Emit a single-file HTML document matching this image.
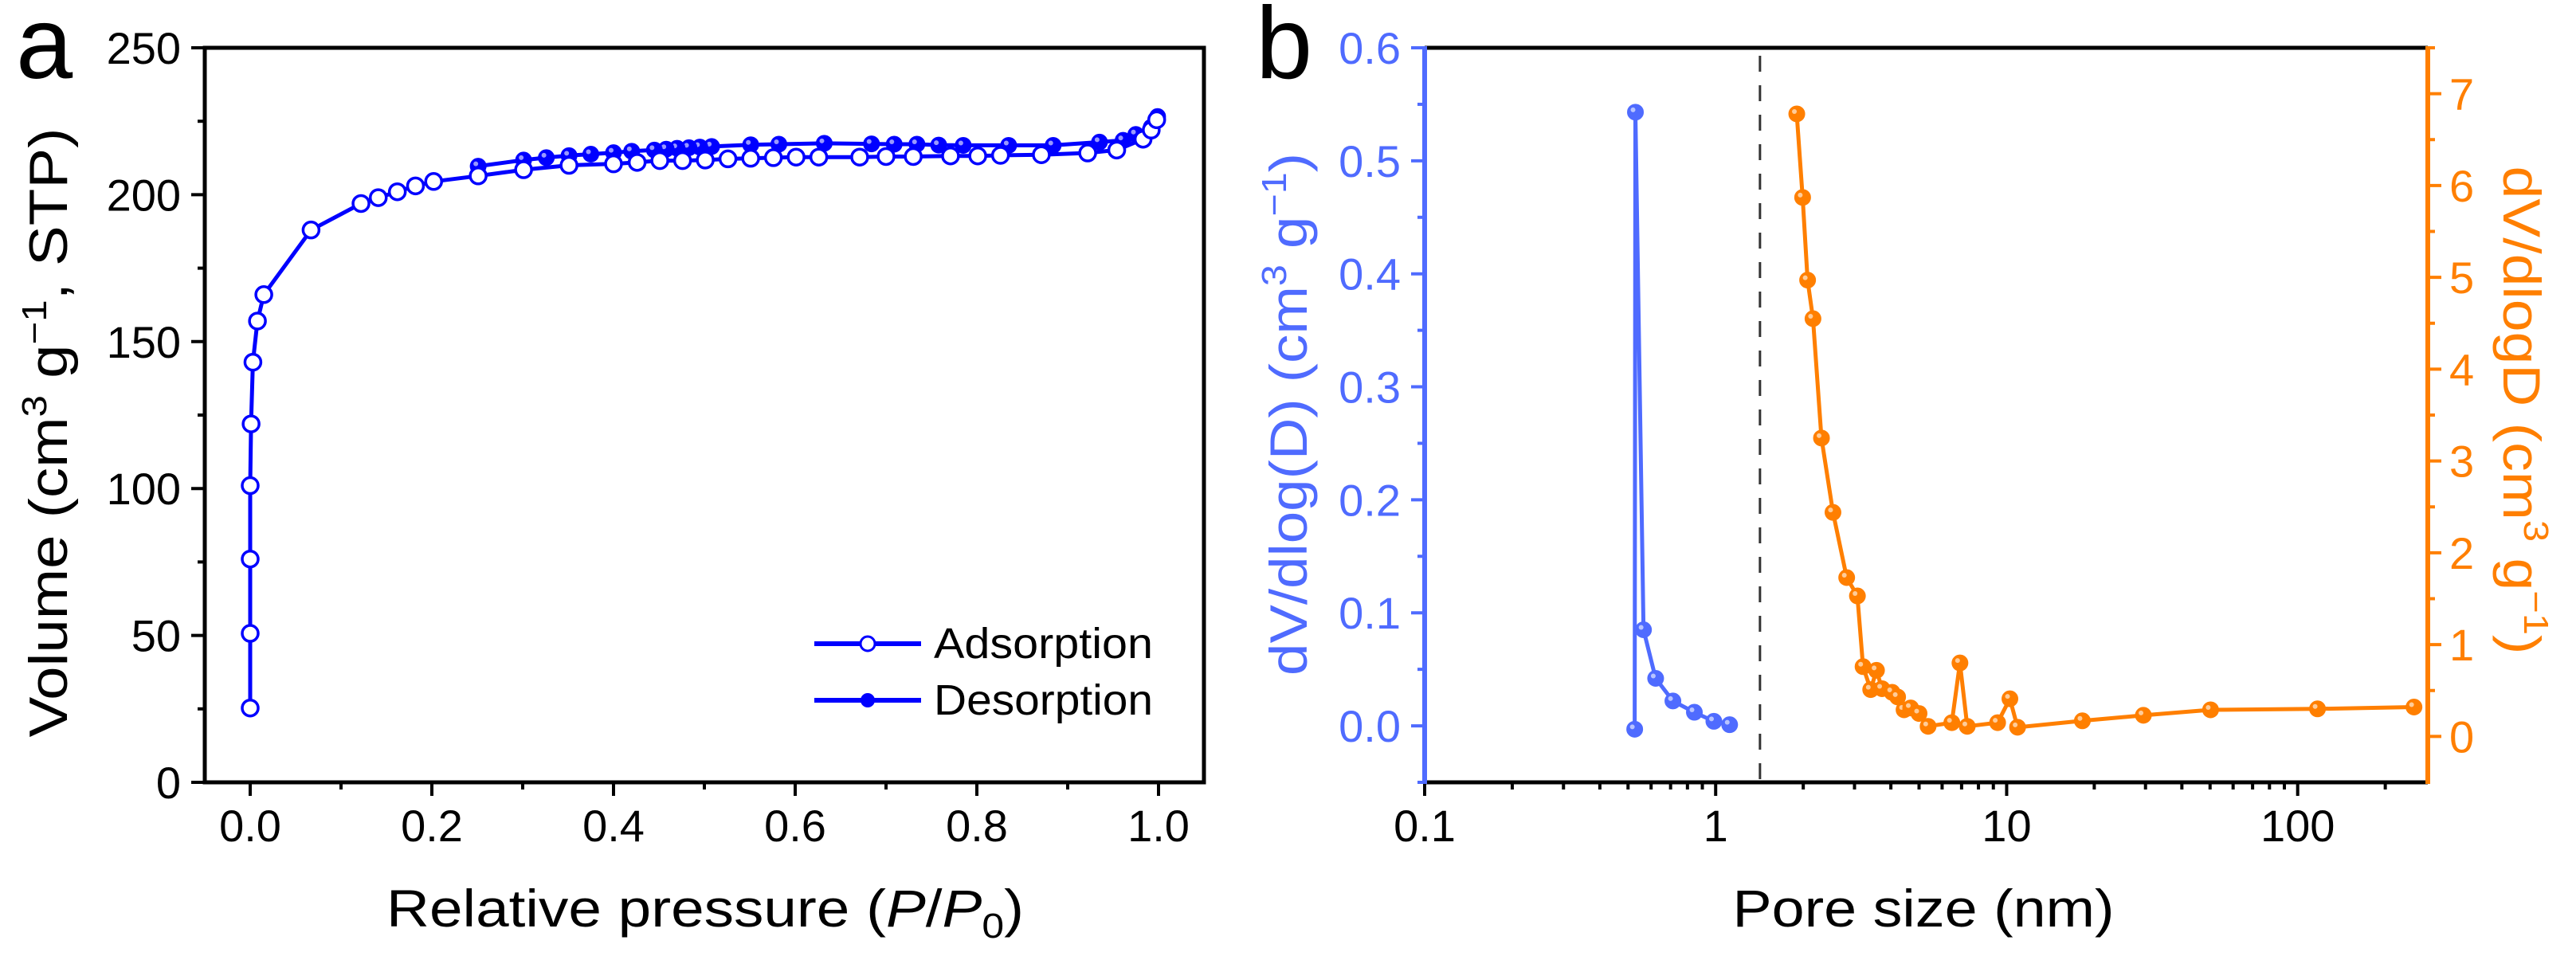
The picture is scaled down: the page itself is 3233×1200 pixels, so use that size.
<!DOCTYPE html>
<html><head><meta charset="utf-8"><style>
html,body{margin:0;padding:0;background:#fff;}
svg{display:block;font-family:"Liberation Sans",Arial,sans-serif;}
</style></head><body>
<svg id="fig" width="3233" height="1200" viewBox="0 0 3233 1200" xmlns="http://www.w3.org/2000/svg">
<rect width="3233" height="1200" fill="#fff"/>
<g id="pa"></g>
<g id="pb"></g>
</svg>
<script>
// ---- Panel a data ----
const adsP = [0,0,0,0,0.001,0.003,0.008,0.015,0.067,0.122,0.141,0.162,0.182,0.202,0.251,0.301,0.351,0.40,0.426,0.451,0.476,0.501,0.526,0.551,0.576,0.601,0.626,0.671,0.70,0.73,0.771,0.801,0.826,0.871,0.922,0.954,0.983,0.992,0.998];
const adsV = [25.3,50.7,76,101,122,143,157,166,188,197,199,201,203,204.5,206.4,208.5,210,210.5,211,211.6,211.6,211.8,212.2,212.4,212.6,212.8,212.8,212.8,213,213,213.2,213.2,213.4,213.6,214.2,215.2,218.9,222,225.5];
const desP = [0.999,0.992,0.975,0.961,0.935,0.884,0.835,0.785,0.758,0.734,0.709,0.684,0.632,0.582,0.551,0.508,0.495,0.483,0.470,0.458,0.445,0.420,0.40,0.375,0.351,0.326,0.301,0.251];
const desV = [226.6,223,220.5,218.5,217.9,216.8,216.8,216.8,216.9,217.2,217.2,217.3,217.5,217.2,217,216.4,216.2,216,215.8,215.5,215.2,214.8,214.3,213.8,213.3,212.6,211.8,209.7];
const aXTicks = [0,0.2,0.4,0.6,0.8,1.0];
const aXLabels = ["0.0","0.2","0.4","0.6","0.8","1.0"];
const aYTicks = [0,50,100,150,200,250];
const aYLabels = ["0","50","100","150","200","250"];
// ---- Panel b data ----
const microD = [0.527,0.530,0.565,0.622,0.713,0.845,0.986,1.117];
const microV = [-0.003,0.543,0.085,0.042,0.022,0.012,0.004,0.001];
const mesoD = [1.90,1.99,2.07,2.16,2.31,2.53,2.82,3.07,3.21,3.41,3.57,3.73,4.04,4.22,4.44,4.68,5.00,5.37,6.48,6.91,7.32,9.31,10.26,10.9,18.2,29.5,50.2,117,251];
const mesoV = [6.78,5.87,4.97,4.55,3.25,2.44,1.73,1.53,0.76,0.51,0.72,0.52,0.48,0.43,0.29,0.31,0.25,0.11,0.15,0.80,0.11,0.15,0.41,0.10,0.17,0.23,0.29,0.30,0.32];
const bXTicks = [0.1,1,10,100];
const bXLabels = ["0.1","1","10","100"];
const bYLTicks = [0,0.1,0.2,0.3,0.4,0.5,0.6];
const bYLLabels = ["0.0","0.1","0.2","0.3","0.4","0.5","0.6"];
const bYRTicks = [0,1,2,3,4,5,6,7];
const bYRLabels = ["0","1","2","3","4","5","6","7"];
const dashD = 1.42;

const NS="http://www.w3.org/2000/svg";
function mk(tag,attrs,parent){const e=document.createElementNS(NS,tag);for(const k in attrs)e.setAttribute(k,attrs[k]);parent.appendChild(e);return e;}

const A={l:257,r:1511,t:60,b:982,x0:-0.05,x1:1.05,y0:0,y1:250};
const ax=v=>A.l+(v-A.x0)/(A.x1-A.x0)*(A.r-A.l);
const ay=v=>A.b-(v-A.y0)/(A.y1-A.y0)*(A.b-A.t);
const B={l:1788,r:3047,t:60,b:982,lx0:-1,lx1:Math.log10(280),yl0:-0.05,yl1:0.6,yr0:-0.5,yr1:7.5};
const bx=v=>B.l+(Math.log10(v)-B.lx0)/(B.lx1-B.lx0)*(B.r-B.l);
const byl=v=>B.b-(v-B.yl0)/(B.yl1-B.yl0)*(B.b-B.t);
const byr=v=>B.b-(v-B.yr0)/(B.yr1-B.yr0)*(B.b-B.t);

const pa=document.getElementById('pa'), pb=document.getElementById('pb');
const BLUE="#0000ff", LB="#4f6bff", OR="#ff7f00";

// ===== Panel a =====
let e;
e=mk('text',{x:20,y:98,'font-size':128,fill:'#000'},pa);e.textContent='a';


for(let i=0;i<aXTicks.length;i++){
  const x=ax(aXTicks[i]);
  e=mk('line',{x1:x,x2:x,y1:A.b,y2:A.b+17,stroke:'#000','stroke-width':4},pa);
  
  
  e=mk('text',{x:x,y:1056,'font-size':56,'text-anchor':'middle',fill:'#000'},pa);e.textContent=aXLabels[i];
  
  
  if(i<aXTicks.length-1){const xm=ax((aXTicks[i]+aXTicks[i+1])/2);
    e=mk('line',{x1:xm,x2:xm,y1:A.b,y2:A.b+9,stroke:'#000','stroke-width':4},pa);
    
    }
}
for(let i=0;i<aYTicks.length;i++){
  const y=ay(aYTicks[i]);
  e=mk('line',{x1:A.l-17,x2:A.l,y1:y,y2:y,stroke:'#000','stroke-width':4},pa);
  
  
  e=mk('text',{x:A.l-30,y:y+20,'font-size':56,'text-anchor':'end',fill:'#000'},pa);e.textContent=aYLabels[i];
  
  
  if(i<aYTicks.length-1){const ym=ay((aYTicks[i]+aYTicks[i+1])/2);
    e=mk('line',{x1:A.l-9,x2:A.l,y1:ym,y2:ym,stroke:'#000','stroke-width':4},pa);
    
    }
}
e=mk('rect',{x:A.l,y:A.t,width:A.r-A.l,height:A.b-A.t,fill:'none',stroke:'#000','stroke-width':5},pa);


function series(g,xs,ys,fx,fy,color,lw,r,filled,name){
  const pts=xs.map((v,i)=>fx(v).toFixed(1)+','+fy(ys[i]).toFixed(1)).join(' ');
  let p=mk('polyline',{points:pts,fill:'none',stroke:color,'stroke-width':lw,'stroke-linejoin':'round'},g);
  
  
  for(let i=0;i<xs.length;i++){
    const cx=fx(xs[i]),cy=fy(ys[i]);
    let c=mk('circle',{cx:cx,cy:cy,r:r,fill:filled?color:'#fff',stroke:color,'stroke-width':filled?1:3.5},g);
    
    
    if(filled){mk('circle',{cx:cx-r*0.3,cy:cy-r*0.3,r:r*0.3,fill:'#fff','fill-opacity':0.6},g);}
  }
}
series(pa,desP,desV,ax,ay,BLUE,5,10,true,'desorption');
series(pa,adsP,adsV,ax,ay,BLUE,5,10,false,'adsorption');
// legend
e=mk('line',{x1:1022,x2:1156,y1:808,y2:808,stroke:BLUE,'stroke-width':6},pa);


mk('circle',{cx:1089,cy:808,r:9,fill:'#fff',stroke:BLUE,'stroke-width':3},pa);
e=mk('text',{x:1172,y:826,'font-size':54,textLength:275,lengthAdjust:'spacingAndGlyphs',fill:'#000'},pa);e.textContent='Adsorption';


e=mk('line',{x1:1022,x2:1156,y1:879,y2:879,stroke:BLUE,'stroke-width':6},pa);


mk('circle',{cx:1089,cy:879,r:9,fill:BLUE},pa);
e=mk('text',{x:1172,y:897,'font-size':54,textLength:275,lengthAdjust:'spacingAndGlyphs',fill:'#000'},pa);e.textContent='Desorption';


e=mk('text',{x:885,y:1163,'font-size':66,'text-anchor':'middle',textLength:800,lengthAdjust:'spacingAndGlyphs',fill:'#000'},pa);
e.innerHTML='Relative pressure (<tspan font-style="italic">P</tspan>/<tspan font-style="italic">P</tspan><tspan font-size="44" dy="14">0</tspan><tspan dy="-14">)</tspan>';


e=mk('text',{x:0,y:0,'font-size':68,'text-anchor':'middle',textLength:765,lengthAdjust:'spacingAndGlyphs',fill:'#000',transform:'translate(84,543) rotate(-90)'},pa);
e.innerHTML='Volume (cm<tspan font-size="44" dy="-26">3</tspan><tspan dy="26"> g</tspan><tspan font-size="44" dy="-26">−1</tspan><tspan dy="26">, STP)</tspan>';



// ===== Panel b =====
e=mk('text',{x:1576,y:98,'font-size':128,fill:'#000'},pb);e.textContent='b';


for(let i=0;i<bXTicks.length;i++){
  const x=bx(bXTicks[i]);
  e=mk('line',{x1:x,x2:x,y1:B.b,y2:B.b+17,stroke:'#000','stroke-width':4},pb);
  
  
  e=mk('text',{x:x,y:1056,'font-size':56,'text-anchor':'middle',fill:'#000'},pb);e.textContent=bXLabels[i];
  
  
  for(let m=2;m<=9;m++){const xm=bx(bXTicks[i]*m); if(xm>B.r)break;
    e=mk('line',{x1:xm,x2:xm,y1:B.b,y2:B.b+9,stroke:'#000','stroke-width':4},pb);
    
    }
}
mk('line',{x1:B.l,x2:B.r,y1:B.t,y2:B.t,stroke:'#000','stroke-width':5},pb);
mk('line',{x1:B.l,x2:B.r,y1:B.b,y2:B.b,stroke:'#000','stroke-width':5},pb);
e=mk('line',{x1:B.l,x2:B.l,y1:B.t-2,y2:B.b+2,stroke:LB,'stroke-width':6},pb);


e=mk('line',{x1:B.r,x2:B.r,y1:B.t-2,y2:B.b+2,stroke:OR,'stroke-width':6},pb);


for(let i=0;i<bYLTicks.length;i++){
  const y=byl(bYLTicks[i]);
  e=mk('line',{x1:B.l-17,x2:B.l,y1:y,y2:y,stroke:LB,'stroke-width':4},pb);
  
  
  e=mk('text',{x:B.l-30,y:y+20,'font-size':56,'text-anchor':'end',fill:LB},pb);e.textContent=bYLLabels[i];
  
  
  const ym=byl(bYLTicks[i]-0.05);
  e=mk('line',{x1:B.l-9,x2:B.l,y1:ym,y2:ym,stroke:LB,'stroke-width':4},pb);
  
  
}
for(let i=0;i<bYRTicks.length;i++){
  const y=byr(bYRTicks[i]);
  e=mk('line',{x1:B.r,x2:B.r+17,y1:y,y2:y,stroke:OR,'stroke-width':4},pb);
  
  
  e=mk('text',{x:B.r+27,y:y+20,'font-size':56,'text-anchor':'start',fill:OR},pb);e.textContent=bYRLabels[i];
  
  
  const ym=byr(bYRTicks[i]+0.5);
  e=mk('line',{x1:B.r,x2:B.r+9,y1:ym,y2:ym,stroke:OR,'stroke-width':4},pb);
  
  
}
e=mk('line',{x1:bx(dashD),x2:bx(dashD),y1:B.t+10,y2:B.b,stroke:'#333','stroke-width':3,'stroke-dasharray':'20,17'},pb);


series(pb,microD,microV,bx,byl,LB,5,10,true,'micropore');
series(pb,mesoD,mesoV,bx,byr,OR,5,10,true,'mesopore');
e=mk('text',{x:2414,y:1163,'font-size':66,'text-anchor':'middle',textLength:479,lengthAdjust:'spacingAndGlyphs',fill:'#000'},pb);e.textContent='Pore size (nm)';


e=mk('text',{x:0,y:0,'font-size':66,'text-anchor':'middle',textLength:656,lengthAdjust:'spacingAndGlyphs',fill:LB,transform:'translate(1640,520) rotate(-90)'},pb);
e.innerHTML='dV/dlog(D) (cm<tspan font-size="44" dy="-26">3</tspan><tspan dy="26"> g</tspan><tspan font-size="44" dy="-26">−1</tspan><tspan dy="26">)</tspan>';


e=mk('text',{x:0,y:0,'font-size':66,'text-anchor':'middle',textLength:613,lengthAdjust:'spacingAndGlyphs',fill:OR,transform:'translate(3142,515) rotate(90)'},pb);
e.innerHTML='dV/dlogD (cm<tspan font-size="44" dy="-26">3</tspan><tspan dy="26"> g</tspan><tspan font-size="44" dy="-26">−1</tspan><tspan dy="26">)</tspan>';


</script>
</body></html>
